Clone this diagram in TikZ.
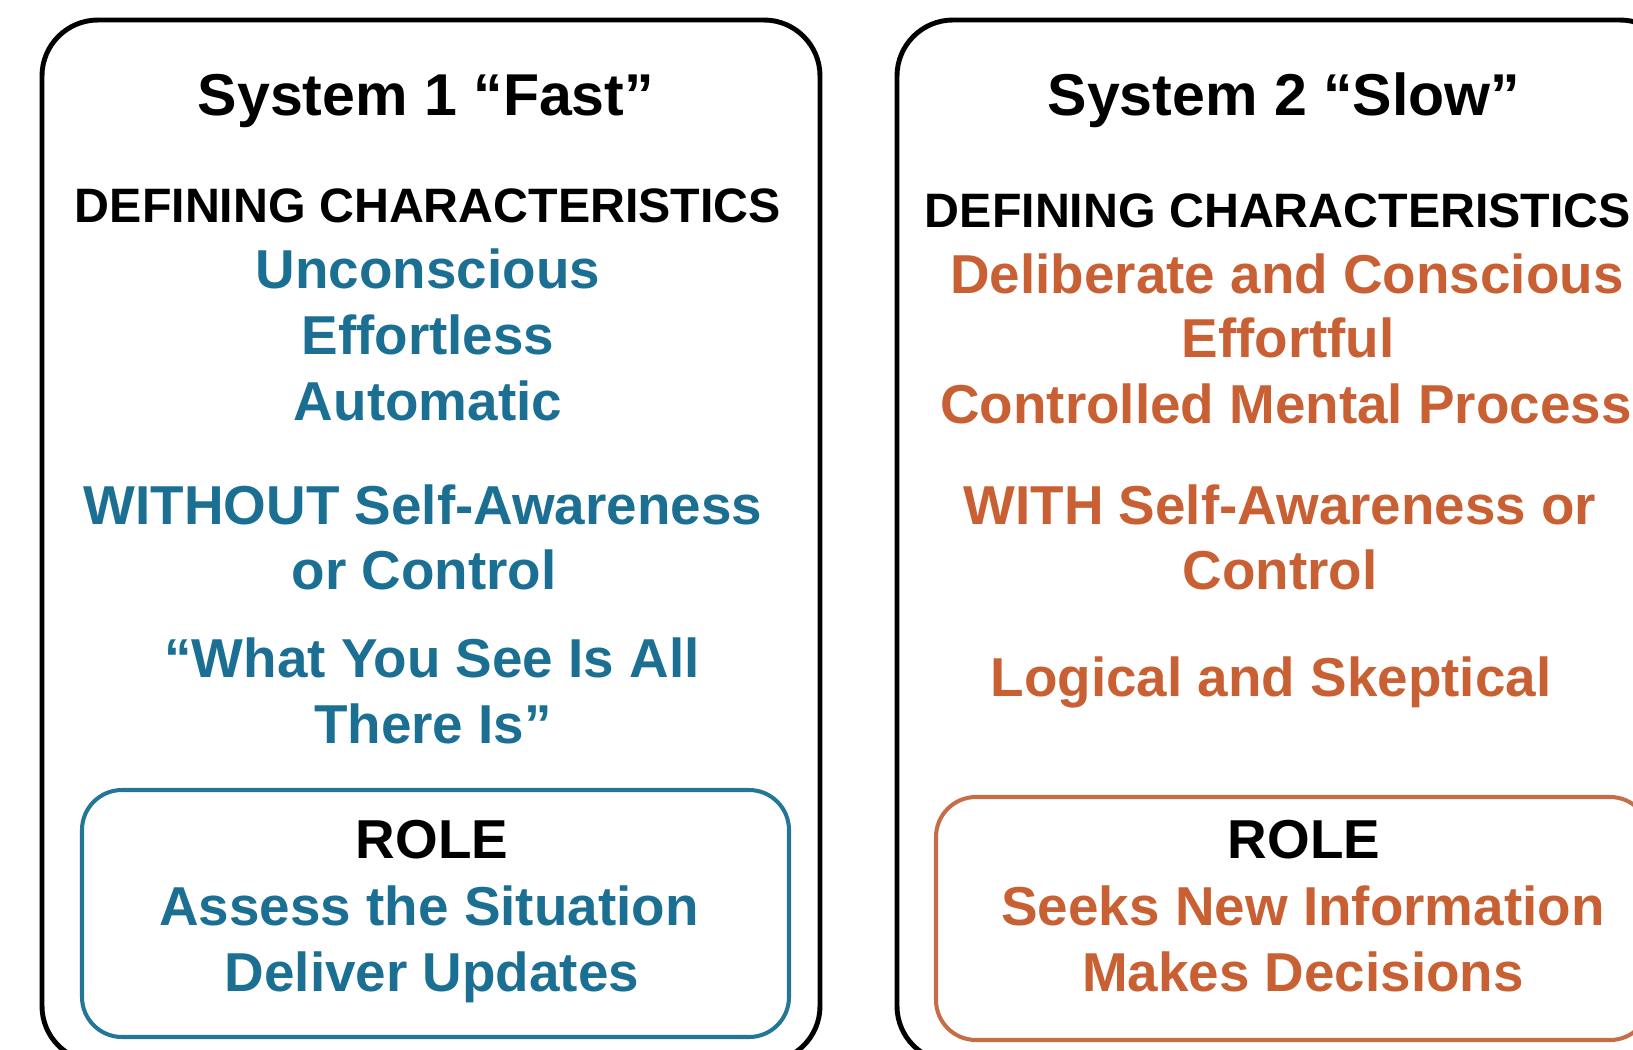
\documentclass[tikz,border=0pt]{standalone}
\usepackage{fontspec}
\setmainfont{Liberation Sans}
\definecolor{fastblue}{RGB}{27,111,147}
\definecolor{fastframe}{RGB}{36,118,150}
\definecolor{slowrust}{RGB}{200,96,52}
\definecolor{slowframe}{RGB}{198,108,70}
\begin{document}
\begin{tikzpicture}[x=0.2mm, y=-0.2mm,
    lbl/.style={anchor=base, inner sep=0pt, font=\bfseries\fontsize{31.2}{37.5}\selectfont},
    fast/.style={lbl, text=fastblue},
    slow/.style={lbl, text=slowrust},
    head/.style={lbl, font=\bfseries\fontsize{27.5}{33}\selectfont},
    title/.style={lbl, font=\bfseries\fontsize{33.6}{40}\selectfont},
    panel/.style={draw=black, line width=2.8pt, rounded corners=11.2mm},
    rolebox/.style={line width=2.3pt, rounded corners=8mm}]
    \useasboundingbox (0,0) rectangle (1633,1049);
    % Outer panels
    \draw[panel] (42,20) rectangle (820,1062);
    \draw[panel] (897,20) rectangle (1676,1062);
    % Role frames
    \draw[rolebox, draw=fastframe] (82,790) rectangle (789,1037);
    \draw[rolebox, draw=slowframe] (936,797) rectangle (1650,1040);
    % System 1
    \node[title] (sys1) at (426,115) {System 1 “Fast”};
    \node[head] (def1) at (428,222) {DEFINING CHARACTERISTICS};
    \node[fast] (uncon) at (428,288) {Unconscious};
    \node[fast] (effless) at (428,354) {Effortless};
    \node[fast] (auto) at (428,420) {Automatic};
    \node[fast] (without) at (423,524) {WITHOUT Self-Awareness};
    \node[fast] (without2) at (424,589) {or Control};
    \node[fast] (wysiati) at (432,677) {“What You See Is All};
    \node[fast] (wysiati2) at (433,743) {There Is”};
    \node[lbl] (role1) at (432,858) {ROLE};
    \node[fast] (assess) at (429,925) {Assess the Situation};
    \node[fast] (deliver) at (432,991) {Deliver Updates};
    % System 2
    \node[title] (sys2) at (1284,115) {System 2 “Slow”};
    \node[head] (def2) at (1278,227) {DEFINING CHARACTERISTICS};
    \node[slow] (delib) at (1287,293) {Deliberate and Conscious};
    \node[slow] (effful) at (1288,357) {Effortful};
    \node[slow] (ctrl) at (1286,423) {Controlled Mental Process};
    \node[slow] (with) at (1280,524) {WITH Self-Awareness or};
    \node[slow] (with2) at (1280,589) {Control};
    \node[slow] (logic) at (1271,696) {Logical and Skeptical};
    \node[lbl] (role2) at (1304,858) {ROLE};
    \node[slow] (seeks) at (1303,925) {Seeks New Information};
    \node[slow] (makes) at (1303,991) {Makes Decisions};
\end{tikzpicture}
\end{document}
